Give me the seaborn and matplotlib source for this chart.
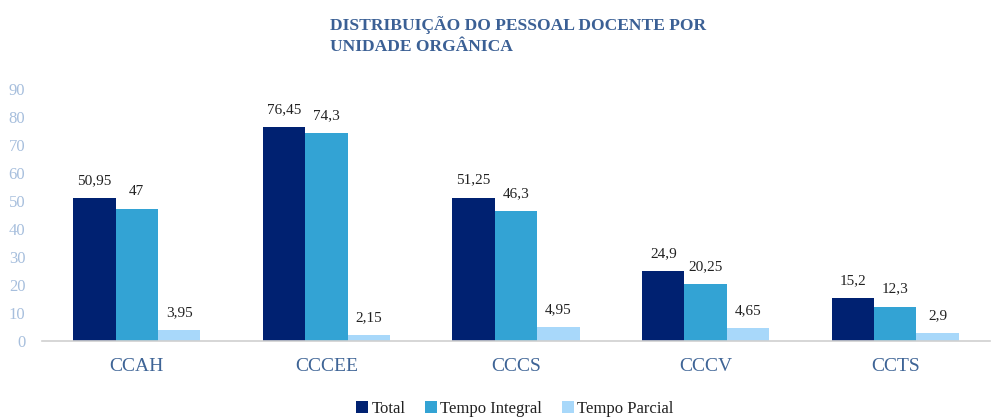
import numpy as np
import pandas as pd
import seaborn as sns
import matplotlib.pyplot as plt

categories = ["CCAH", "CCCEE", "CCCS", "CCCV", "CCTS"]
total = [50.95, 76.45, 51.25, 24.9, 15.2]
integral = [47, 74.3, 46.3, 20.25, 12.3]
parcial = [3.95, 2.15, 4.95, 4.65, 2.9]
series = ["Total", "Tempo Integral", "Tempo Parcial"]
colors = ["#002171", "#33A3D4", "#A8D8FA"]

df = pd.DataFrame({
    "cat": categories * 3,
    "serie": [s for s in series for _ in categories],
    "valor": total + integral + parcial,
})

sns.set_style("white")
plt.rcParams["font.family"] = ["Liberation Serif", "DejaVu Serif"]

fig = plt.figure(figsize=(9.91, 4.17), dpi=100)
ax = fig.add_axes([42 / 991, (417 - 341) / 417, 948 / 991, 252 / 417])

sns.barplot(data=df, x="cat", y="valor", hue="serie", palette=colors,
            width=0.67, gap=0, ax=ax, legend=True, saturation=1, linewidth=0)

for cont in ax.containers:
    ax.bar_label(cont, labels=[f"{v:g}".replace(".", ",") for v in cont.datavalues],
                 padding=8, fontsize=11, color="#222222")

ax.set_ylim(0, 90)
ax.set_xlim(-0.5, 4.5)
ax.set_yticks(np.arange(0, 91, 10))
ax.tick_params(axis="y", labelsize=12, colors="#A7BFDD", length=0, pad=12)
ax.tick_params(axis="x", which="major", length=0, labelsize=14, colors="#3E6496", pad=12)
ax.set_xticks(np.arange(-0.5, 5, 1), minor=True)
ax.tick_params(axis="x", which="minor", length=6, color="#D0D0D0", width=1.2)
ax.set_xlabel("")
ax.set_ylabel("")
for s in ["top", "right", "left"]:
    ax.spines[s].set_visible(False)
ax.spines["bottom"].set_color("#D0D0D0")
ax.spines["bottom"].set_linewidth(1.2)

fig.text(330 / 991, 1 - 16 / 417, "DISTRIBUIÇÃO DO PESSOAL DOCENTE POR\nUNIDADE ORGÂNICA",
         ha="left", va="top", fontsize=12.6, fontweight="bold", color="#3B6095",
         linespacing=1.4)

leg = ax.legend(loc="center", bbox_to_anchor=(515 / 991, 8 / 417), bbox_transform=fig.transFigure,
                ncol=3, frameon=False, fontsize=12, handlelength=0.7, handleheight=0.7,
                handletextpad=0.2, columnspacing=1.2)
for t in leg.get_texts():
    t.set_color("#222222")

fig.savefig("out.png", dpi=100)
